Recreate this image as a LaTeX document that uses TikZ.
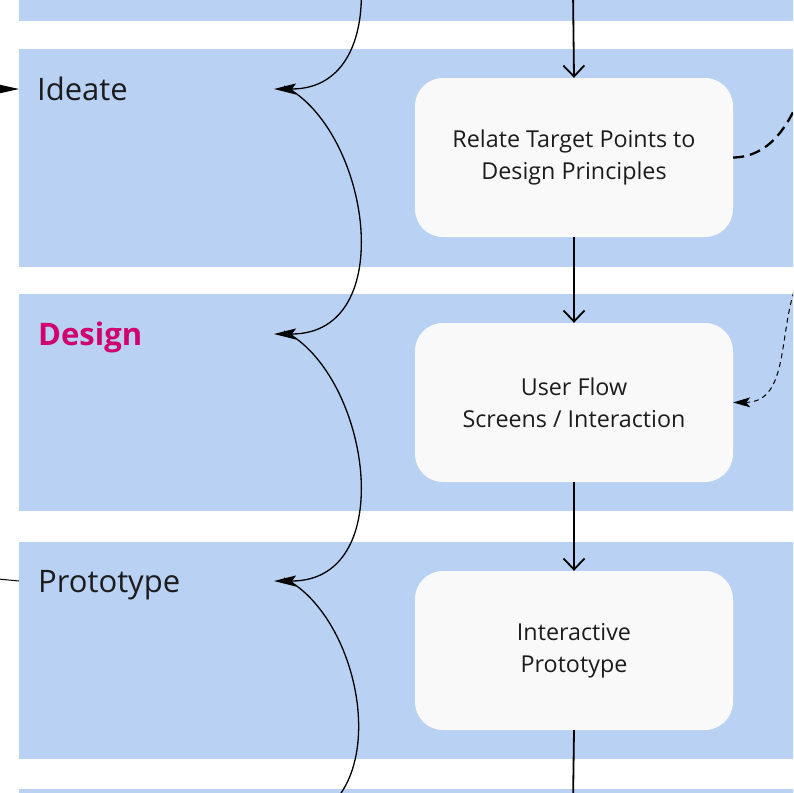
\documentclass[tikz,border=0pt]{standalone}
\usepackage{fontspec}
\setmainfont{Open Sans}
\usetikzlibrary{arrows.meta}
\definecolor{bandblue}{RGB}{185,209,242}
\definecolor{boxfill}{RGB}{249,249,249}
\definecolor{txt}{RGB}{28,28,30}
\definecolor{mag}{RGB}{208,0,111}
\begin{document}
\begin{tikzpicture}[x=1pt,y=-1pt,
  band/.style={fill=bandblue,draw=none,inner sep=0pt,anchor=north west,minimum width=781pt},
  stepbox/.style={fill=boxfill,draw=none,rounded corners=28pt,minimum width=318pt,minimum height=159pt,
     align=center,text=txt,font=\fontsize{23.3}{32}\selectfont,inner sep=0pt},
  stage/.style={anchor=base west,text=txt,font=\fontsize{31}{36}\selectfont,inner sep=0pt},
  flow/.style={line width=1.8pt,-{Straight Barb[length=11pt,width=21pt,line width=1.8pt]}},
  arc/.style={line width=1.3pt,-{Stealth[length=22pt,width=11pt,inset=4pt]}},
  plainarc/.style={line width=1.3pt},
  thickdash/.style={line width=2.3pt,dash pattern=on 11pt off 6pt},
  thindash/.style={line width=1pt,dash pattern=on 5pt off 4pt,-{Stealth[length=17pt,width=10pt,inset=4pt]}}]
\useasboundingbox (0,0) rectangle (793,793);
\clip (0,0) rectangle (793,793);
% bands
\node[band,minimum height=221pt] (b0) at (19,-200) {};
\node[band,minimum height=218pt] (b1) at (19,49) {};
\node[band,minimum height=217pt] (b2) at (19,294) {};
\node[band,minimum height=217pt] (b3) at (19,542) {};
\node[band,minimum height=200pt] (b4) at (19,789) {};
% boxes
\node[stepbox] (s1) at (574,157.5) {Relate Target Points to\\Design Principles};
\node[stepbox] (s2) at (574,402.5) {User Flow\\Screens / Interaction};
\node[stepbox] (s3) at (574,650.5) {Interactive\\Prototype};
% stage labels
\node[stage] (ideate) at (37,100) {Ideate};
\node[stage,text=mag,font=\fontsize{31}{36}\selectfont\bfseries] (design) at (38,345) {Design};
\node[stage] (proto) at (38,592) {Prototype};
% coordinates
\coordinate (top) at (573,-10);
\coordinate (bot) at (573,805);
\coordinate (t0) at (274,-156);
\coordinate (t1) at (274,89);
\coordinate (t2) at (274,334);
\coordinate (t3) at (274,581);
\coordinate (t4) at (274,826);
\coordinate (lin) at (-40,89);
\coordinate (lout) at (-12,578);
\coordinate (dout) at (802,92);
\coordinate (din) at (797,283);
% vertical flow
\draw[flow] (top) -- (s1.north);
\draw[flow] (s1.south) -- (s2.north);
\draw[flow] (s2.south) -- (s3.north);
\draw[line width=1.8pt] (s3.south) -- (bot);
% brace arcs
\draw[arc] ([xshift=10pt,yshift=3pt]t0) .. controls ++(86,38) and (400,89) .. (t1);
\draw[arc] ([xshift=10pt,yshift=3pt]t1) .. controls (370,130) and (400,334) .. (t2);
\draw[arc] ([xshift=10pt,yshift=3pt]t2) .. controls (370,375) and (400,581) .. (t3);
\draw[plainarc] ([xshift=10pt,yshift=3pt]t3) .. controls (370,622) and (400,826) .. (t4);
% left side
\draw[line width=1.3pt,-{Stealth[length=27pt,width=12pt,inset=4pt]}] (lin) -- (b1.west |- t1);
\draw[line width=1pt] (b3.west |- t3) -- (lout);
% right side dashed
\draw[thickdash] (s1.east) .. controls (768,157) and (788,128) .. (dout);
\draw[thindash] (din) .. controls (778,330) and (790,402) .. (s2.east);
\end{tikzpicture}
\end{document}
